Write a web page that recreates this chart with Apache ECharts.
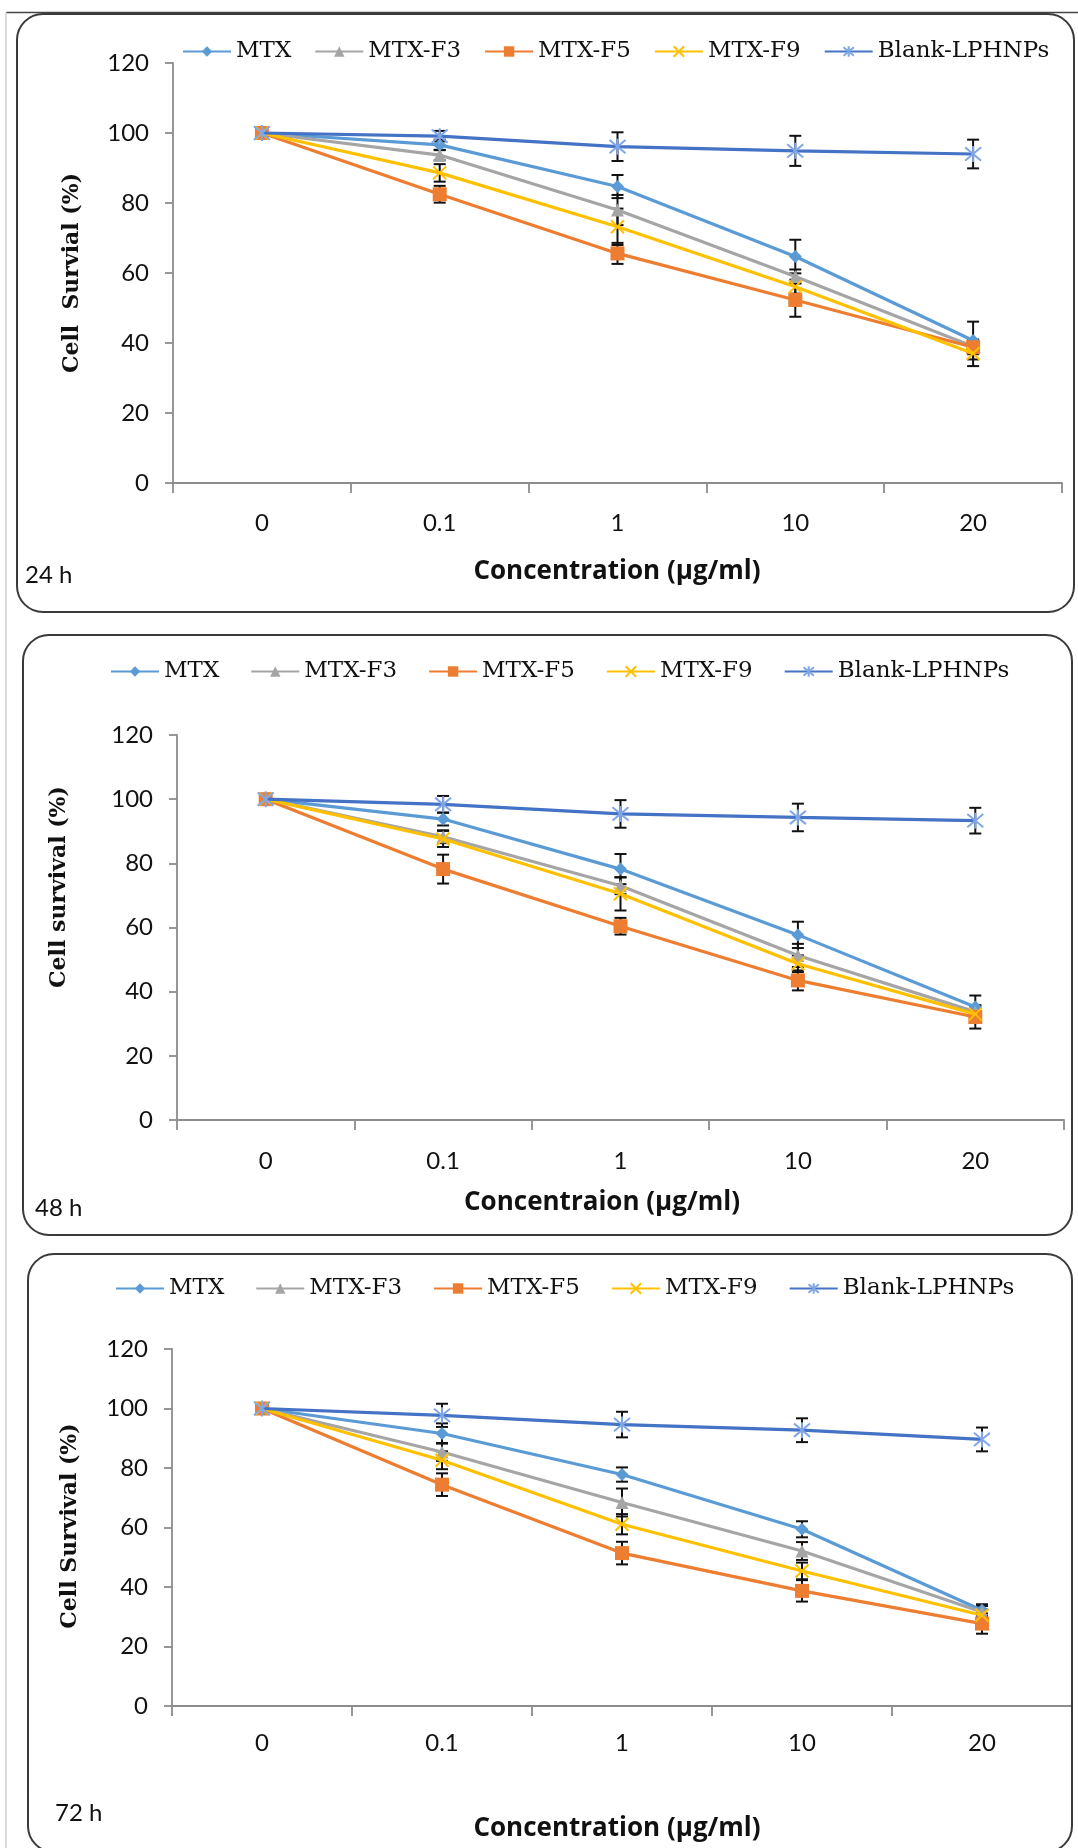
<!DOCTYPE html>
<html><head><meta charset="utf-8">
<script src="https://cdn.jsdelivr.net/npm/echarts@6/dist/echarts.min.js"></script>
<style>html,body{margin:0;padding:0;background:#fff}#c{width:1078px;height:1848px}</style>
</head><body><div id="c"></div>
<script>
// ---------- data ----------
const categories = ['0', '0.1', '1', '10', '20'];
const seriesNames = ['MTX', 'MTX-F3', 'MTX-F5', 'MTX-F9', 'Blank-LPHNPs'];
const yTickMin = 0, yTickMax = 120, yTickStep = 20;

// 24 h
const mtx24   = [100, 96.6, 84.7, 64.7, 40.7];
const f3_24   = [100, 93.7, 78.0, 59.0, 39.0];
const f5_24   = [100, 82.5, 65.6, 52.3, 38.8];
const f9_24   = [100, 88.6, 73.2, 56.1, 37.0];
const blank24 = [100, 99.1, 96.1, 94.9, 94.0];
const mtx24Err   = [0, 1.5, 3.3, 4.8, 5.4];
const f3_24Err   = [0, 1.5, 4.3, 2.0, 2.0];
const f5_24Err   = [0, 2.4, 3.0, 4.8, 2.0];
const f9_24Err   = [0, 2.5, 5.2, 2.0, 3.6];
const blank24Err = [0, 1.5, 4.1, 4.3, 4.1];

// 48 h
const mtx48   = [100, 93.8, 78.2, 57.7, 35.2];
const f3_48   = [100, 88.3, 73.0, 51.3, 33.7];
const f5_48   = [100, 78.2, 60.4, 43.5, 32.1];
const f9_48   = [100, 87.6, 70.5, 48.7, 33.0];
const blank48 = [100, 98.4, 95.4, 94.3, 93.3];
const mtx48Err   = [0, 2.0, 4.7, 4.1, 3.6];
const f3_48Err   = [0, 2.0, 2.6, 3.6, 2.0];
const f5_48Err   = [0, 4.5, 2.6, 3.1, 3.6];
const f9_48Err   = [0, 2.5, 5.2, 2.6, 2.0];
const blank48Err = [0, 2.6, 4.3, 4.3, 4.0];

// 72 h
const mtx72   = [100, 91.6, 77.8, 59.4, 32.2];
const f3_72   = [100, 85.4, 68.4, 52.1, 31.6];
const f5_72   = [100, 74.4, 51.4, 38.7, 27.7];
const f9_72   = [100, 82.6, 61.1, 45.4, 30.5];
const blank72 = [100, 97.7, 94.6, 92.7, 89.6];
const mtx72Err   = [0, 3.4, 2.4, 2.7, 2.0];
const f3_72Err   = [0, 3.0, 4.7, 3.0, 2.0];
const f5_72Err   = [0, 3.8, 3.8, 3.6, 3.4];
const f9_72Err   = [0, 3.0, 3.4, 2.8, 2.0];
const blank72Err = [0, 3.9, 4.3, 4.0, 4.0];

const panelLabels = ['24 h', '48 h', '72 h'];
const yTitles = ['Cell  Survial (%)', 'Cell survival (%)', 'Cell Survival (%)'];
const xTitles = ['Concentration (µg/ml)', 'Concentraion (µg/ml)', 'Concentration (µg/ml)'];

// ---------- styling / layout ----------
const colors = ['#5B9BD5', '#A5A5A5', '#ED7D31', '#FFC000', '#4472C4'];
const X_PATH = 'path://M0,0L10,10M10,0L0,10';
const STAR_PATH = 'path://M0,1L10,11M10,1L0,11M5,0L5,12';
const symbols = ['diamond', 'triangle', 'rect', X_PATH, STAR_PATH];
const symbolSizes = [13, 13, 14, 13, 16];

const panels = [
  { vals: [mtx24, f3_24, f5_24, f9_24, blank24], errs: [mtx24Err, f3_24Err, f5_24Err, f9_24Err, blank24Err],
    grid: {left: 173, top: 63, width: 889, height: 420}, legendLeft: 182, legendY: 53, legendGap: 23,
    box: [17, 14, 1057, 598], lab: [25, 575], yT: [72, 273], xT: [617, 572], xLabY: 524 },
  { vals: [mtx48, f3_48, f5_48, f9_48, blank48], errs: [mtx48Err, f3_48Err, f5_48Err, f9_48Err, blank48Err],
    grid: {left: 177, top: 735, width: 887, height: 385}, legendLeft: 110, legendY: 673, legendGap: 31,
    box: [23, 635, 1049, 600], lab: [35, 1208], yT: [59, 887], xT: [602, 1203], xLabY: 1162 },
  { vals: [mtx72, f3_72, f5_72, f9_72, blank72], errs: [mtx72Err, f3_72Err, f5_72Err, f9_72Err, blank72Err],
    grid: {left: 172, top: 1349, width: 900, height: 357}, legendLeft: 115, legendY: 1290, legendGap: 31,
    box: [28, 1254, 1044, 598], lab: [55, 1813], yT: [70, 1526], xT: [617, 1829], xLabY: 1744 }
];

const grids = [], xAxes = [], yAxes = [], legends = [], series = [], graphics = [];

graphics.push({type: 'line', shape: {x1: 6, y1: 12.5, x2: 1078, y2: 12.5}, style: {stroke: '#444', lineWidth: 1.5}, z: 1});
graphics.push({type: 'line', shape: {x1: 6, y1: 12, x2: 6, y2: 1848}, style: {stroke: '#cfcfcf', lineWidth: 1.5}, z: 1});

function errRender(params, api) {
  const x = api.value(0), v = api.value(1), e = api.value(2);
  const t = api.coord([x, v + e]), b = api.coord([x, v - e]);
  const w = 6;
  const st = {stroke: '#111', lineWidth: 2};
  return {type: 'group', children: [
    {type: 'line', shape: {x1: t[0], y1: t[1], x2: b[0], y2: b[1]}, style: st},
    {type: 'line', shape: {x1: t[0] - w, y1: t[1], x2: t[0] + w, y2: t[1]}, style: st},
    {type: 'line', shape: {x1: b[0] - w, y1: b[1], x2: b[0] + w, y2: b[1]}, style: st}
  ]};
}

panels.forEach((p, i) => {
  grids.push(Object.assign({containLabel: false}, p.grid));
  const gBottom = p.grid.top + p.grid.height;
  xAxes.push({
    type: 'category', gridIndex: i, data: categories, boundaryGap: true,
    axisLine: {lineStyle: {color: '#8c8c8c', width: 1.8}},
    axisTick: {show: true, length: 10, lineStyle: {color: '#8c8c8c', width: 1.8}},
    axisLabel: {color: '#111', fontFamily: 'Lato', fontSize: 24, margin: p.xLabY - gBottom - 13},
    splitLine: {show: false}
  });
  yAxes.push({
    type: 'value', gridIndex: i, min: yTickMin, max: yTickMax, interval: yTickStep,
    axisLine: {show: true, lineStyle: {color: '#8c8c8c', width: 1.8}},
    axisTick: {show: true, length: 8, lineStyle: {color: '#8c8c8c', width: 1.8}},
    axisLabel: {color: '#111', fontFamily: 'Lato', fontSize: 24, margin: 24},
    splitLine: {show: false}
  });
  legends.push({
    left: p.legendLeft, top: p.legendY - 13, padding: 0, itemGap: p.legendGap, itemWidth: 48, itemHeight: 13,
    data: seriesNames,
    textStyle: {fontFamily: 'DejaVu Serif', fontSize: 23, color: '#111', padding: [0, 0, 0, 0]}
  });
  seriesNames.forEach((name, k) => {
    series.push({
      type: 'custom', name: name + ' err', xAxisIndex: i, yAxisIndex: i, z: 2,
      renderItem: errRender, silent: true,
      data: p.vals[k].map((v, j) => [j, v, p.errs[k][j]]).filter(d => d[2] > 0)
    });
  });
  seriesNames.forEach((name, k) => {
    const isPath = k >= 3;
    series.push({
      type: 'line', name: name, xAxisIndex: i, yAxisIndex: i, z: 3 + k,
      data: p.vals[k], symbol: symbols[k], symbolSize: symbolSizes[k], showAllSymbol: true,
      color: colors[k],
      lineStyle: {color: colors[k], width: 3.2},
      itemStyle: isPath ? {color: colors[k], borderColor: k === 4 ? '#7fa6e6' : colors[k], borderWidth: 2}
                        : {color: colors[k], borderColor: colors[k], borderWidth: 0},
      emphasis: {disabled: true}, animation: false
    });
  });
  const [bx, by, bw, bh] = p.box;
  graphics.push({type: 'rect', shape: {x: bx, y: by, width: bw, height: bh, r: 26},
    style: {fill: 'none', stroke: '#3a3a3a', lineWidth: 2}, z: 1});
  graphics.push({type: 'text', x: p.lab[0], y: p.lab[1],
    style: {text: panelLabels[i], fill: '#111', font: '24px Lato', align: 'left', verticalAlign: 'middle'}});
  graphics.push({type: 'text', x: p.yT[0], y: p.yT[1], rotation: Math.PI / 2,
    style: {text: yTitles[i], fill: '#111', font: 'bold 22px "DejaVu Serif"', align: 'center', verticalAlign: 'middle'}});
  graphics.push({type: 'text', x: p.xT[0], y: p.xT[1],
    style: {text: xTitles[i], fill: '#111', font: 'bold 26px "Open Sans"', align: 'center', verticalAlign: 'middle'}});
});

const chart = echarts.init(document.getElementById('c'), null, {renderer: 'canvas'});
chart.setOption({
  backgroundColor: '#fff',
  animation: false,
  grid: grids, xAxis: xAxes, yAxis: yAxes, legend: legends, series: series,
  graphic: {elements: graphics}
});
</script>
</body></html>
